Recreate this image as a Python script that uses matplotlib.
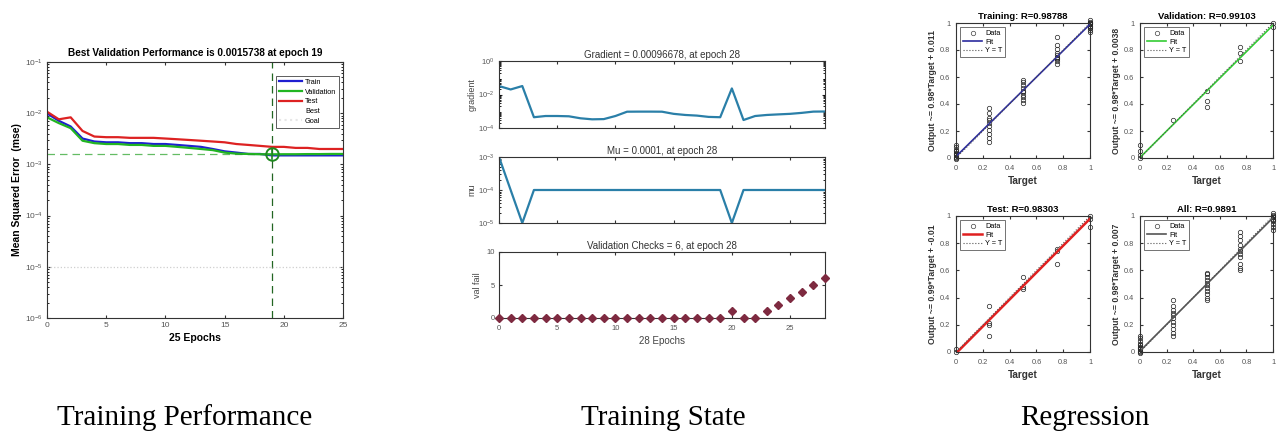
import matplotlib.pyplot as plt
import numpy as np
from matplotlib.lines import Line2D

plt.rcParams['font.family'] = ['Liberation Sans', 'DejaVu Sans']

# ---- training performance data ----
perf_epochs = list(range(26))
train_mse = [0.0099, 0.0071, 0.0055, 0.0032, 0.0028, 0.0027, 0.0027, 0.0026, 0.0026, 0.0025,
             0.0025, 0.0024, 0.0023, 0.0022, 0.0020, 0.0018, 0.0017, 0.0016, 0.0016, 0.0015,
             0.0015, 0.0015, 0.0015, 0.0015, 0.0015, 0.0015]
val_mse = [0.0083, 0.0064, 0.0051, 0.0029, 0.0026, 0.0025, 0.0025, 0.0024, 0.0024, 0.0023,
           0.0023, 0.0022, 0.0021, 0.0020, 0.0019, 0.0017, 0.00162, 0.0016, 0.00158, 0.0015738,
           0.00158, 0.00158, 0.00159, 0.00159, 0.0016, 0.0016]
test_mse = [0.0107, 0.0076, 0.0083, 0.0045, 0.0035, 0.0034, 0.0034, 0.0033, 0.0033, 0.0033,
            0.0032, 0.0031, 0.0030, 0.0029, 0.0028, 0.0027, 0.0025, 0.0024, 0.0023, 0.0022,
            0.0022, 0.0021, 0.0021, 0.0020, 0.0020, 0.0020]
best_epoch = 19
best_perf = 0.0015738
goal = 1e-5

# ---- training state data ----
state_epochs = list(range(29))
gradient = [0.032, 0.020, 0.032, 4.4e-4, 5.2e-4, 5.2e-4, 5.0e-4, 3.8e-4, 3.3e-4, 3.4e-4,
            5.2e-4, 9.4e-4, 9.5e-4, 9.5e-4, 9.4e-4, 7.0e-4, 6.0e-4, 5.5e-4, 4.6e-4, 4.4e-4,
            0.023, 3.0e-4, 5.2e-4, 6.0e-4, 6.5e-4, 7.0e-4, 8.0e-4, 9.5e-4, 0.00096678]
mu = [1e-3, 1e-4, 1e-5, 1e-4, 1e-4, 1e-4, 1e-4, 1e-4, 1e-4, 1e-4,
      1e-4, 1e-4, 1e-4, 1e-4, 1e-4, 1e-4, 1e-4, 1e-4, 1e-4, 1e-4,
      1e-5, 1e-4, 1e-4, 1e-4, 1e-4, 1e-4, 1e-4, 1e-4, 1e-4]
val_fail = [0, 0, 0, 0, 0, 0, 0, 0, 0, 0,
            0, 0, 0, 0, 0, 0, 0, 0, 0, 0,
            1, 0, 0, 1, 2, 3, 4, 5, 6]

# ---- regression data ----
target_levels = [0, 0.25, 0.5, 0.75, 1.0]
train_out = [[-0.01, 0.0, 0.01, 0.02, 0.03, 0.04, 0.05, 0.06, 0.08, 0.10],
             [0.12, 0.15, 0.18, 0.21, 0.24, 0.26, 0.28, 0.30, 0.33, 0.37],
             [0.41, 0.43, 0.45, 0.47, 0.49, 0.50, 0.52, 0.54, 0.56, 0.58],
             [0.70, 0.72, 0.73, 0.74, 0.75, 0.76, 0.78, 0.81, 0.84, 0.90],
             [0.93, 0.95, 0.96, 0.97, 0.98, 0.99, 1.0, 1.0, 1.01, 1.02]]
val_out = [[0.0, 0.02, 0.05, 0.1],
           [0.28],
           [0.38, 0.42, 0.5],
           [0.72, 0.78, 0.82],
           [0.97, 1.0]]
test_out = [[0.0, 0.02],
            [0.12, 0.2, 0.21, 0.34],
            [0.46, 0.48, 0.55],
            [0.65, 0.74, 0.76],
            [0.92, 0.98, 1.0]]
all_out = [[-0.01, 0.0, 0.01, 0.02, 0.03, 0.04, 0.05, 0.06, 0.08, 0.10, 0.12],
           [0.12, 0.14, 0.17, 0.20, 0.22, 0.25, 0.27, 0.29, 0.31, 0.34, 0.38],
           [0.38, 0.40, 0.43, 0.45, 0.47, 0.49, 0.51, 0.53, 0.55, 0.57, 0.58],
           [0.60, 0.62, 0.65, 0.70, 0.72, 0.74, 0.76, 0.79, 0.82, 0.85, 0.88],
           [0.90, 0.92, 0.94, 0.96, 0.97, 0.98, 0.99, 1.0, 1.01, 1.02]]

reg_titles = ['Training: R=0.98788', 'Validation: R=0.99103', 'Test: R=0.98303', 'All: R=0.9891']
reg_ylabels = ['Output ~= 0.98*Target + 0.011', 'Output ~= 0.98*Target + 0.0038',
               'Output ~= 0.99*Target + -0.01', 'Output ~= 0.98*Target + 0.007']
reg_fit = [(0.98, 0.011), (0.98, 0.0038), (0.99, -0.01), (0.98, 0.007)]
reg_colors = ['#2b2b9e', '#33cc33', '#e02020', '#555555']

W, H = 1279, 442
fig = plt.figure(figsize=(W / 100, H / 100), dpi=100)


def box(x0, y0, x1, y1):
    return [x0 / W, 1 - y1 / H, (x1 - x0) / W, (y1 - y0) / H]


def style(ax, fs=5.5):
    ax.tick_params(direction='in', top=True, right=True, labelsize=fs, length=2.5,
                   colors='#333333', labelcolor='#555555', pad=3)
    ax.tick_params(which='minor', direction='in', top=True, right=True, length=1.5)
    for s in ax.spines.values():
        s.set_linewidth(0.8)
        s.set_color('#333333')


# ---------------- Training Performance ----------------
ax = fig.add_axes(box(47, 62, 343, 318))
ax.semilogy(perf_epochs, train_mse, color='#1f1fd0', lw=1.6, label='Train')
ax.semilogy(perf_epochs, val_mse, color='#22b522', lw=1.6, label='Validation')
ax.semilogy(perf_epochs, test_mse, color='#dd2222', lw=1.6, label='Test')
ax.plot([0, best_epoch], [best_perf, best_perf], color='#22a022', ls=(0, (6, 4)), lw=0.9, alpha=0.7)
ax.plot([best_epoch, best_epoch], [1e-6, 1e-1], color='#226622', ls=(0, (6, 4)), lw=0.9)
ax.plot([best_epoch], [best_perf], 'o', ms=9, mfc='none', mec='#208a20', mew=1.4)
ax.plot([best_epoch, best_epoch], [best_perf * 0.8, best_perf * 1.25], color='#208a20', lw=1.2)
ax.plot([0, 25], [goal, goal], color='#cfcfcf', ls=':', lw=0.9)
ax.set_xlim(0, 25)
ax.set_ylim(1e-6, 1e-1)
ax.set_xticks([0, 5, 10, 15, 20, 25])
ax.set_yticks([1e-1, 1e-2, 1e-3, 1e-4, 1e-5, 1e-6])
style(ax, 6)
ax.set_title('Best Validation Performance is 0.0015738 at epoch 19', fontsize=7.2,
             fontweight='bold', pad=4)
ax.set_xlabel('25 Epochs', fontsize=7.5, fontweight='bold', labelpad=3)
ax.set_ylabel('Mean Squared Error  (mse)', fontsize=7.5, fontweight='bold', labelpad=2)
handles = [Line2D([], [], color='#1f1fd0', lw=1.6), Line2D([], [], color='#22b522', lw=1.6),
           Line2D([], [], color='#dd2222', lw=1.6), Line2D([], [], color='none'),
           Line2D([], [], color='#e6e6e6', ls=':')]
leg = ax.legend(handles, ['Train', 'Validation', 'Test', 'Best', 'Goal'], loc='upper right',
                bbox_to_anchor=(1.0, 0.96), fontsize=5.3, frameon=True, fancybox=False,
                handlelength=3.2, labelspacing=0.35, borderpad=0.4, handletextpad=0.4)
leg.get_frame().set_edgecolor('#333333')
leg.get_frame().set_linewidth(0.7)

# ---------------- Training State ----------------
line_c = '#2a7fa8'
ax1 = fig.add_axes(box(499, 61, 825, 128))
ax1.semilogy(state_epochs, gradient, color=line_c, lw=1.6)
ax1.set_ylim(1e-4, 1)
ax1.set_yticks([1, 1e-2, 1e-4])
ax1.set_xlim(0, 28)
ax1.set_xticks([0, 5, 10, 15, 20, 25])
ax1.set_xticklabels([])
style(ax1, 5.5)
ax1.set_title('Gradient = 0.00096678, at epoch 28', fontsize=7, pad=2, color='#333333')
ax1.set_ylabel('gradient', fontsize=6.5, color='#444444', labelpad=1)

ax2 = fig.add_axes(box(499, 157, 825, 223))
ax2.semilogy(state_epochs, mu, color=line_c, lw=1.6)
ax2.set_ylim(1e-5, 1e-3)
ax2.set_yticks([1e-3, 1e-4, 1e-5])
ax2.set_xlim(0, 28)
ax2.set_xticks([0, 5, 10, 15, 20, 25])
ax2.set_xticklabels([])
style(ax2, 5.5)
ax2.set_title('Mu = 0.0001, at epoch 28', fontsize=7, pad=2, color='#333333')
ax2.set_ylabel('mu', fontsize=6.5, color='#444444', labelpad=1)

ax3 = fig.add_axes(box(499, 252, 825, 318))
ax3.plot(state_epochs, val_fail, 'D', color='#7e2a40', ms=3.6, clip_on=False, zorder=3)
ax3.set_ylim(0, 10)
ax3.set_yticks([0, 5, 10])
ax3.set_xlim(0, 28)
ax3.set_xticks([0, 5, 10, 15, 20, 25])
style(ax3, 5.5)
ax3.tick_params(axis='x', pad=5)
ax3.set_title('Validation Checks = 6, at epoch 28', fontsize=7, pad=2, color='#333333')
ax3.set_ylabel('val fail', fontsize=6.5, color='#444444', labelpad=3)
ax3.set_xlabel('28 Epochs', fontsize=7, color='#444444', labelpad=3)

# ---------------- Regression ----------------
reg_boxes = [box(956, 23, 1090, 158), box(1140, 23, 1273, 158),
             box(956, 216, 1090, 352), box(1140, 216, 1273, 352)]
reg_data = [train_out, val_out, test_out, all_out]
for k in range(4):
    ax = fig.add_axes(reg_boxes[k])
    for t, outs in zip(target_levels, reg_data[k]):
        ax.plot([t] * len(outs), outs, 'o', ms=3.2, mfc='none', mec='#222222', mew=0.5,
                clip_on=False)
    xs = np.array([0, 1])
    a, b = reg_fit[k]
    lw = 1.8 if k == 2 else 1.2
    ax.plot(xs, a * xs + b, color=reg_colors[k], lw=lw)
    ax.plot(xs, xs, color='#555555', ls=':', lw=0.8)
    ax.set_xlim(0, 1)
    ax.set_ylim(0, 1)
    ax.set_xticks([0, 0.2, 0.4, 0.6, 0.8, 1])
    ax.set_yticks([0, 0.2, 0.4, 0.6, 0.8, 1])
    ax.set_xticklabels(['0', '0.2', '0.4', '0.6', '0.8', '1'])
    ax.set_yticklabels(['0', '0.2', '0.4', '0.6', '0.8', '1'])
    style(ax, 5.3)
    ax.tick_params(axis='x', pad=5)
    ax.tick_params(axis='y', pad=4)
    ax.set_title(reg_titles[k], fontsize=6.8, fontweight='bold', pad=3)
    ax.set_xlabel('Target', fontsize=7.2, fontweight='bold', color='#333333', labelpad=3)
    ax.set_ylabel(reg_ylabels[k], fontsize=6.2, fontweight='bold', color='#333333', labelpad=2)
    h = [Line2D([], [], marker='o', ls='none', mfc='none', mec='#444444', ms=3.2, mew=0.5),
         Line2D([], [], color=reg_colors[k], lw=lw),
         Line2D([], [], color='#555555', ls=':', lw=0.8)]
    lg = ax.legend(h, ['Data', 'Fit', 'Y = T'], loc='upper left', fontsize=5.3, fancybox=False,
                   handlelength=2.6, labelspacing=0.2, borderpad=0.35, handletextpad=0.4,
                   borderaxespad=0.6)
    lg.get_frame().set_edgecolor('#333333')
    lg.get_frame().set_linewidth(0.6)

# ---------------- captions ----------------
cap_font = ['Liberation Serif', 'DejaVu Serif']
fig.text(185 / W, 1 - 418 / H, 'Training Performance', fontsize=21, family=cap_font,
         ha='center', va='center')
fig.text(663 / W, 1 - 418 / H, 'Training State', fontsize=21, family=cap_font,
         ha='center', va='center')
fig.text(1085 / W, 1 - 418 / H, 'Regression', fontsize=21, family=cap_font,
         ha='center', va='center')

fig.savefig('out.png', dpi=100, facecolor='white')
